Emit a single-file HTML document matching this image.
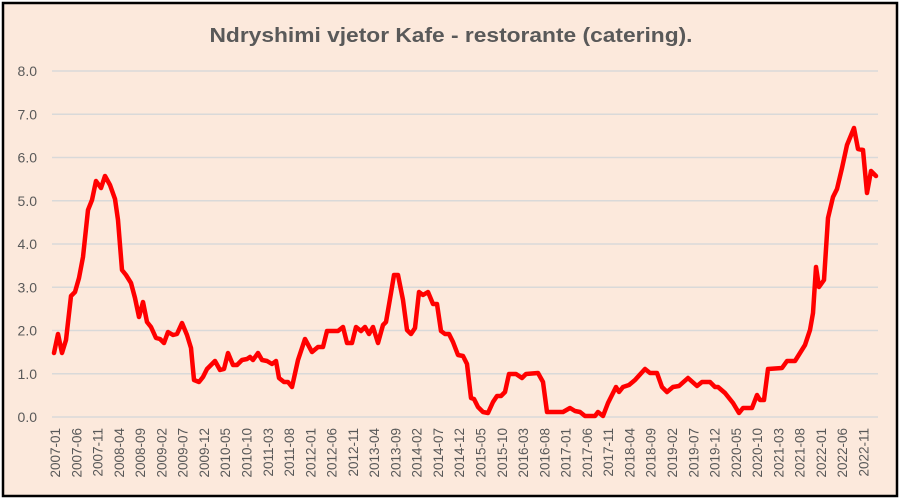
<!DOCTYPE html>
<html><head><meta charset="utf-8"><style>
html,body{margin:0;padding:0;background:#fff;}
svg{display:block;}
text{font-family:"Liberation Sans",Arial,sans-serif;fill:#595959;}
</style></head><body>
<svg width="901" height="500" viewBox="0 0 901 500" xmlns="http://www.w3.org/2000/svg">
<rect x="3" y="3" width="894" height="493" fill="#FCE9DC" stroke="#000" stroke-width="2.5"/>
<text x="451" y="42" text-anchor="middle" font-size="20" font-weight="bold" textLength="483" lengthAdjust="spacingAndGlyphs">Ndryshimi vjetor Kafe - restorante (catering).</text>
<g stroke="#D9D9D9" stroke-width="1.5">
<line x1="52" x2="878" y1="417" y2="417"/><line x1="52" x2="878" y1="373.75" y2="373.75"/><line x1="52" x2="878" y1="330.5" y2="330.5"/><line x1="52" x2="878" y1="287.25" y2="287.25"/><line x1="52" x2="878" y1="244" y2="244"/><line x1="52" x2="878" y1="200.75" y2="200.75"/><line x1="52" x2="878" y1="157.5" y2="157.5"/><line x1="52" x2="878" y1="114.25" y2="114.25"/><line x1="52" x2="878" y1="71" y2="71"/>
</g>
<g font-size="14" text-anchor="end">
<text x="37" y="422">0.0</text><text x="37" y="378.75">1.0</text><text x="37" y="335.5">2.0</text><text x="37" y="292.25">3.0</text><text x="37" y="249">4.0</text><text x="37" y="205.75">5.0</text><text x="37" y="162.5">6.0</text><text x="37" y="119.25">7.0</text><text x="37" y="76">8.0</text>
</g>
<polyline fill="none" stroke="#FF0000" stroke-width="4.5" stroke-linejoin="round" stroke-linecap="round" points="54,353 58,334 62,353 66,340 71,296 75,292 79,278 83,257 88,210 92,200 96,181 101,188 105,176 110,185 115,199 118,220 122,270 126,275 131,283 135,298 139,317 143,302 147,322 151,327 156,338 160,339 164,343 168,332 173,335 177,334 182,323 187,335 191,348 194,380 199,382 203,377 207,369 215,361 220,370 224,369 228,353 233,365 237,365 242,360 247,359 250,357 253,360 258,353 262,360 267,361 272,364 276,361 279,378 284,382 288,382 292,387 298,360 305,339 312,352 318,347 323,347 327,331 338,331 343,327 347,343 352,343 356,327 361,331 365,327 369,334 373,327 378,343 383,325 386,322 391,293 394,275 398,275 403,300 407,330 411,334 415,328 419,292 423,295 428,292 433,304 437,304 441,331 445,334 449,334 453,342 458,355 463,356 467,364 471,398 474,399 478,407 483,412 488,413 493,402 497,396 501,396 505,392 509,374 516,374 522,378 526,374 538,373 543,382 547,412 563,412 570,408 575,411 580,412 585,416 595,416 598,412 603,416 608,403 616,387 619,392 623,387 629,385 635,380 645,369 650,373 657,373 662,387 667,392 673,387 679,386 688,378 697,386 702,382 710,382 715,387 718,387 725,393 733,403 739,413 743,408 752,408 757,395 760,400 764,400 768,369 782,368 787,361 795,361 800,353 805,345 810,330 813,313 816,267 819,287 824,280 828,218 833,197 837,189 842,168 847,145 854,128 858,149 863,150 867,193 871,171 876,176"/>
<g font-size="13.5" text-anchor="end">
<text transform="translate(60,428) rotate(-90)">2007-01</text>
<text transform="translate(81.3,428) rotate(-90)">2007-06</text>
<text transform="translate(102.6,428) rotate(-90)">2007-11</text>
<text transform="translate(123.8,428) rotate(-90)">2008-04</text>
<text transform="translate(145.1,428) rotate(-90)">2008-09</text>
<text transform="translate(166.4,428) rotate(-90)">2009-02</text>
<text transform="translate(187.7,428) rotate(-90)">2009-07</text>
<text transform="translate(208.9,428) rotate(-90)">2009-12</text>
<text transform="translate(230.2,428) rotate(-90)">2010-05</text>
<text transform="translate(251.5,428) rotate(-90)">2010-10</text>
<text transform="translate(272.8,428) rotate(-90)">2011-03</text>
<text transform="translate(294,428) rotate(-90)">2011-08</text>
<text transform="translate(315.3,428) rotate(-90)">2012-01</text>
<text transform="translate(336.6,428) rotate(-90)">2012-06</text>
<text transform="translate(357.9,428) rotate(-90)">2012-11</text>
<text transform="translate(379.1,428) rotate(-90)">2013-04</text>
<text transform="translate(400.4,428) rotate(-90)">2013-09</text>
<text transform="translate(421.7,428) rotate(-90)">2014-02</text>
<text transform="translate(443,428) rotate(-90)">2014-07</text>
<text transform="translate(464.2,428) rotate(-90)">2014-12</text>
<text transform="translate(485.5,428) rotate(-90)">2015-05</text>
<text transform="translate(506.8,428) rotate(-90)">2015-10</text>
<text transform="translate(528.1,428) rotate(-90)">2016-03</text>
<text transform="translate(549.3,428) rotate(-90)">2016-08</text>
<text transform="translate(570.6,428) rotate(-90)">2017-01</text>
<text transform="translate(591.9,428) rotate(-90)">2017-06</text>
<text transform="translate(613.2,428) rotate(-90)">2017-11</text>
<text transform="translate(634.4,428) rotate(-90)">2018-04</text>
<text transform="translate(655.7,428) rotate(-90)">2018-09</text>
<text transform="translate(677,428) rotate(-90)">2019-02</text>
<text transform="translate(698.3,428) rotate(-90)">2019-07</text>
<text transform="translate(719.5,428) rotate(-90)">2019-12</text>
<text transform="translate(740.8,428) rotate(-90)">2020-05</text>
<text transform="translate(762.1,428) rotate(-90)">2020-10</text>
<text transform="translate(783.4,428) rotate(-90)">2021-03</text>
<text transform="translate(804.6,428) rotate(-90)">2021-08</text>
<text transform="translate(825.9,428) rotate(-90)">2022-01</text>
<text transform="translate(847.2,428) rotate(-90)">2022-06</text>
<text transform="translate(868.5,428) rotate(-90)">2022-11</text>
</g>
</svg>
</body></html>
